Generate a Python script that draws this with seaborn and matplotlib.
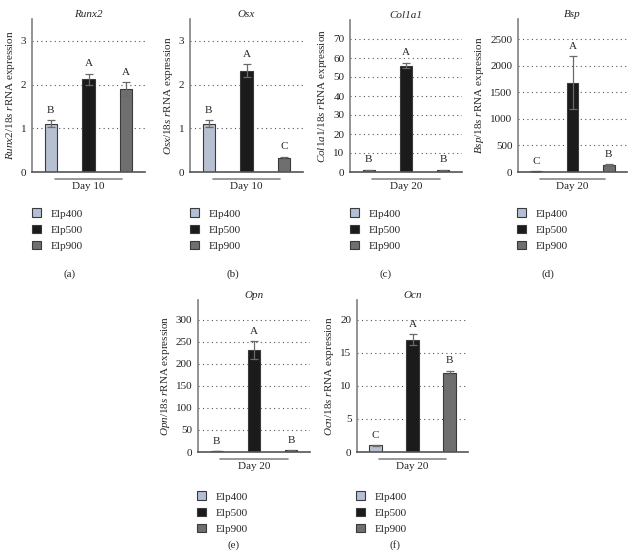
import numpy as np
import pandas as pd
import matplotlib
matplotlib.use("Agg")
import matplotlib.pyplot as plt
import matplotlib.transforms as mtransforms
from matplotlib.patches import Patch
import seaborn as sns

# =========================
# Data
# =========================
groups = ["Elp400", "Elp500", "Elp900"]
genes = ["Runx2", "Osx", "Col1a1", "Bsp", "Opn", "Ocn"]
days = ["Day 10", "Day 10", "Day 20", "Day 20", "Day 20", "Day 20"]
panel_tags = ["(a)", "(b)", "(c)", "(d)", "(e)", "(f)"]

runx2_mean = [1.10, 2.12, 1.90]
runx2_err = [0.08, 0.13, 0.16]
osx_mean = [1.10, 2.32, 0.32]
osx_err = [0.08, 0.14, 0.03]
col1a1_mean = [1.0, 56.0, 1.0]
col1a1_err = [0.3, 1.5, 0.3]
bsp_mean = [10, 1680, 140]
bsp_err = [5, 500, 10]
opn_mean = [2, 232, 4]
opn_err = [0.5, 20, 0.8]
ocn_mean = [1.0, 17.0, 12.0]
ocn_err = [0.05, 0.8, 0.3]

means = [runx2_mean, osx_mean, col1a1_mean, bsp_mean, opn_mean, ocn_mean]
errs = [runx2_err, osx_err, col1a1_err, bsp_err, opn_err, ocn_err]
letters = [["B", "A", "A"], ["B", "A", "C"], ["B", "A", "B"],
           ["C", "A", "B"], ["B", "A", "B"], ["C", "A", "B"]]
y_ticks = [[0, 1, 2, 3], [0, 1, 2, 3], list(range(0, 71, 10)),
           list(range(0, 2501, 500)), list(range(0, 301, 50)), list(range(0, 21, 5))]
y_max = [3.5, 3.5, 80, 2880, 345, 23]

colors = ["#b3bfd4", "#1b1b1b", "#6f6f6f"]

# =========================
# Style
# =========================
sns.set_style("white")
plt.rcParams["font.family"] = ["Liberation Serif", "DejaVu Serif"]
plt.rcParams["mathtext.fontset"] = "custom"
plt.rcParams["mathtext.rm"] = "Liberation Serif"
plt.rcParams["mathtext.it"] = "Liberation Serif:italic"

W, H = 630, 552
fig = plt.figure(figsize=(W / 100, H / 100), dpi=100)

# axes boxes in pixels: left, top, right, bottom
boxes = [(32, 19, 145, 172), (190, 19, 303, 172), (350, 20, 462, 172),
         (518, 19, 627, 172), (198, 300, 310, 452), (357, 300, 468, 452)]
legend_pos = [(28, 204), (186, 204), (346, 204), (513, 204),
              (193, 487), (352, 487)]
caption_pos = [(70, 274), (233, 274), (386, 274), (548, 274),
               (234, 545), (395, 545)]

fs = 8
for i, gene in enumerate(genes):
    l, t, r, b = boxes[i]
    ax = fig.add_axes([l / W, 1 - b / H, (r - l) / W, (b - t) / H])
    df = pd.DataFrame({"group": groups, "value": means[i]})
    sns.barplot(data=df, x="group", y="value", hue="group", palette=colors,
                width=0.33, edgecolor="#3a3a3a", linewidth=0.8,
                legend=False, ax=ax)
    ax.errorbar(range(3), means[i], yerr=errs[i], fmt="none",
                ecolor="#6a6a6a", elinewidth=0.9, capsize=3, capthick=0.9)
    top = y_max[i]
    for j in range(3):
        ax.text(j, means[i][j] + errs[i][j] + top * 0.035, letters[i][j],
                ha="center", va="bottom", fontsize=fs)
    ax.set_xlim(-0.5, 2.5)
    ax.set_ylim(0, top)
    ax.set_yticks(y_ticks[i])
    ax.set_xticks([])
    ax.set_xlabel("")
    ax.set_ylabel(r"$\it{" + gene + r"/18s\ r}$" + "RNA expression",
                  fontsize=fs, labelpad=3)
    ax.tick_params(axis="y", length=0, pad=4, labelsize=fs, colors="#222222")
    ax.yaxis.grid(True, linestyle=(0, (1, 3)), color="#555555", linewidth=0.8)
    ax.set_axisbelow(True)
    for s in ["top", "right"]:
        ax.spines[s].set_visible(False)
    ax.spines["left"].set_color("#808080")
    ax.spines["left"].set_linewidth(1.2)
    ax.spines["bottom"].set_color("#555555")
    ax.spines["bottom"].set_linewidth(1.2)
    ax.set_title(gene, fontsize=fs, style="italic", pad=1)

    # day bracket under the bars
    trans = mtransforms.blended_transform_factory(ax.transData, ax.transAxes)
    off = 7 / (b - t)
    ax.plot([0.1, 1.9], [-off, -off], transform=trans, color="#888888",
            lw=1.2, clip_on=False)
    ax.text(1, -off - 3 / (b - t), days[i], transform=trans, ha="center",
            va="top", fontsize=fs)

    # legend
    handles = [Patch(facecolor=c, edgecolor="#3a3a3a", linewidth=0.8) for c in colors]
    lx, ly = legend_pos[i]
    fig.legend(handles, groups, loc="upper left",
               bbox_to_anchor=(lx / W, 1 - ly / H), frameon=False,
               fontsize=fs, handlelength=0.8, handleheight=0.8,
               handletextpad=0.8, labelspacing=0.55, borderaxespad=0)
    cx, cy = caption_pos[i]
    fig.text(cx / W, 1 - cy / H, panel_tags[i], ha="center", va="center",
             fontsize=fs)

plt.savefig("out.png", dpi=100)
